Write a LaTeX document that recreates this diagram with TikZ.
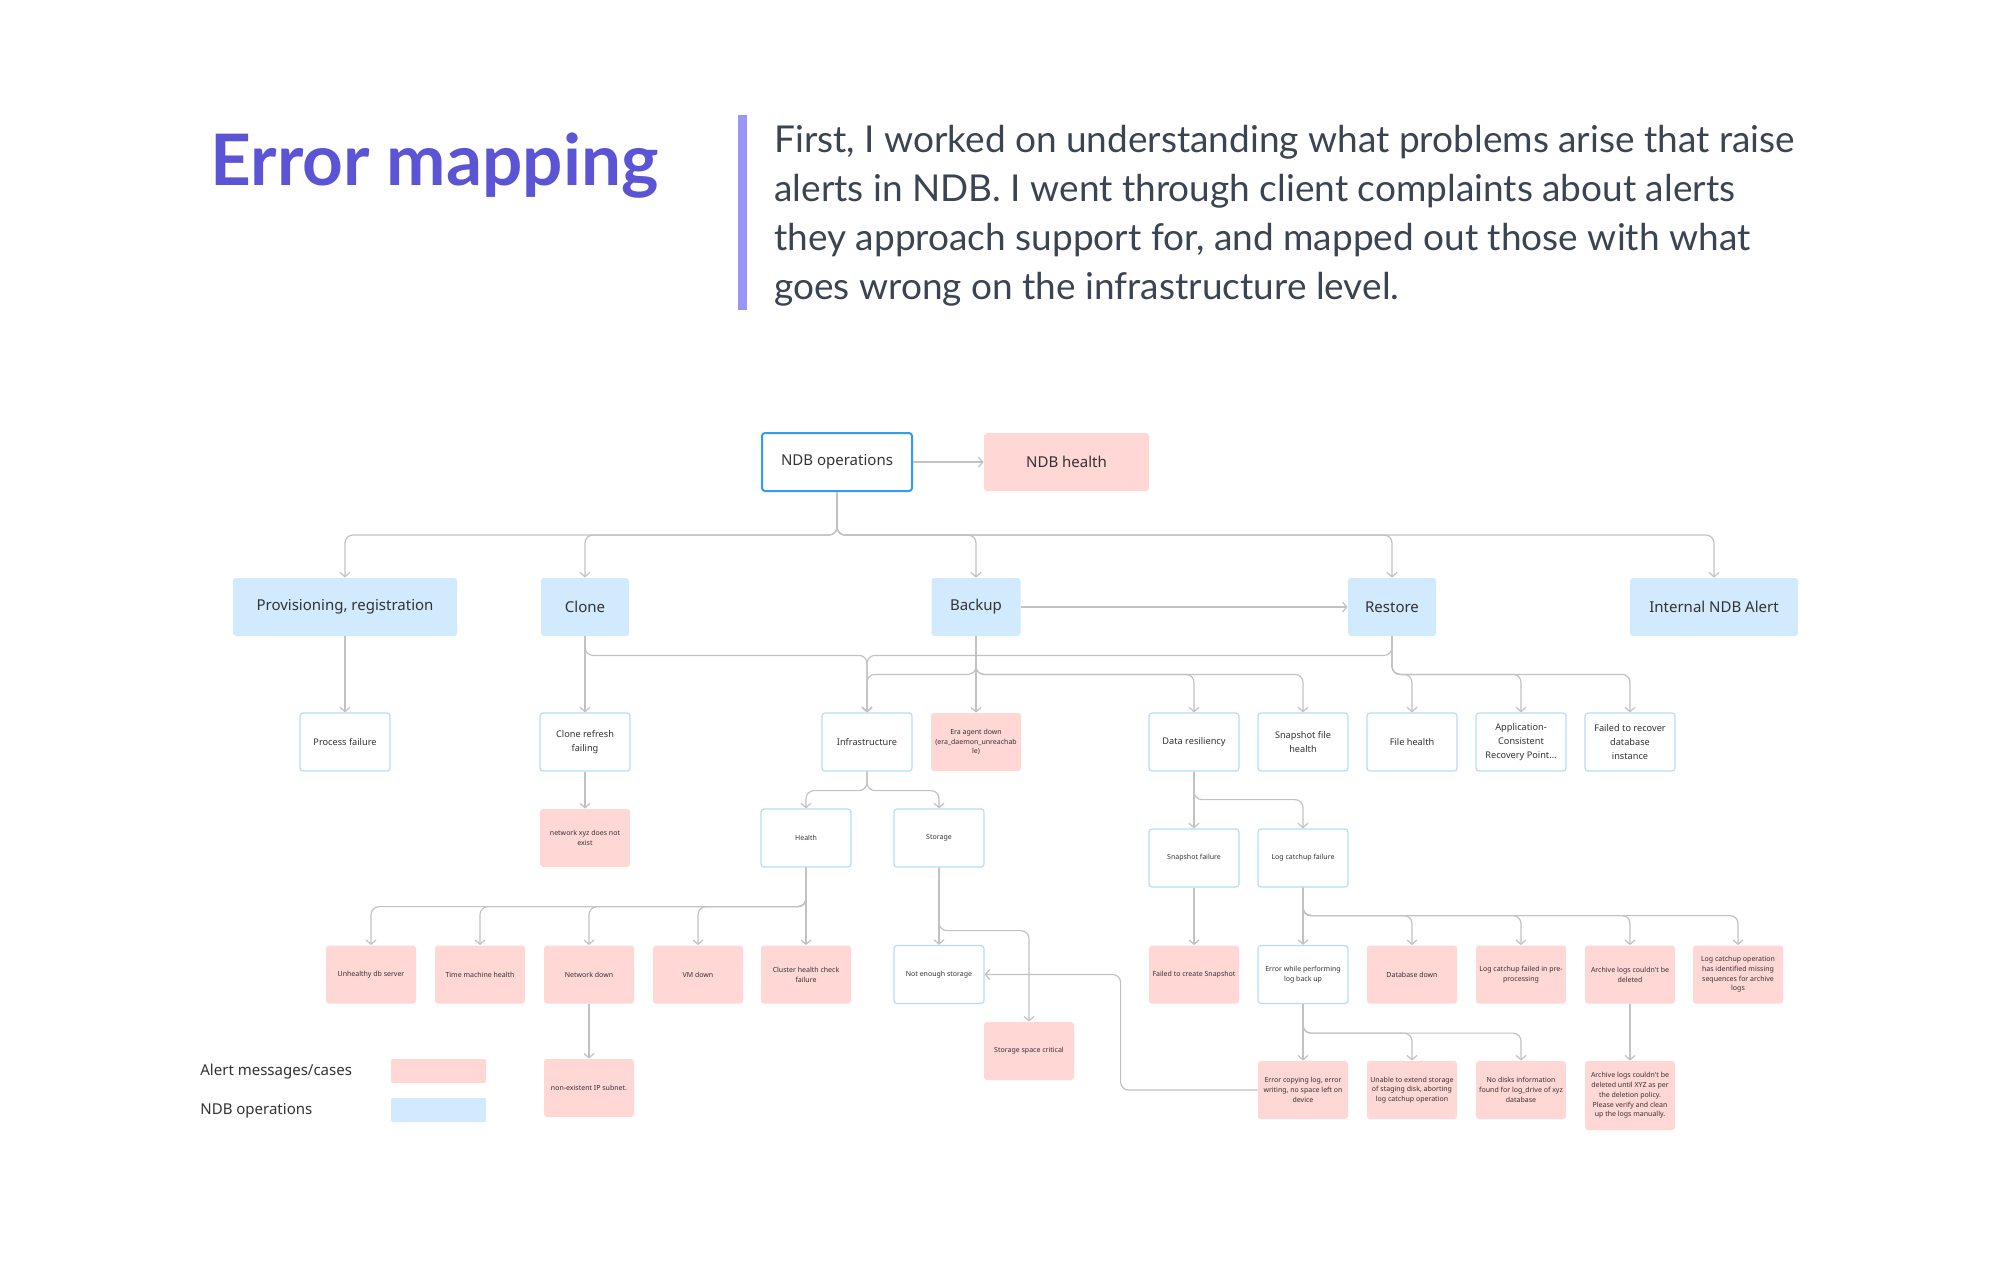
\documentclass[tikz,border=0pt]{standalone}
\usepackage{fontspec}
\setmainfont{Lato}
\newfontfamily\dfont{Noto Sans}
\usetikzlibrary{arrows.meta}
\definecolor{titlec}{HTML}{5B54D4}
\definecolor{barc}{HTML}{9B95F5}
\definecolor{parac}{HTML}{3B4453}
\definecolor{linec}{HTML}{C2C2C2}
\definecolor{opfill}{HTML}{D1EAFD}
\definecolor{alertfill}{HTML}{FFD7D5}
\definecolor{subline}{HTML}{B5DDFB}
\definecolor{opsline}{HTML}{2F9DF4}
\definecolor{txtc}{HTML}{333333}
\begin{document}
\begin{tikzpicture}[x=0.5pt,y=-0.5pt,
 conn/.style={draw=linec, line width=0.6pt, rounded corners=4pt, -{Straight Barb[length=2.2pt,width=5pt]}},
 box/.style={rounded corners=1.5pt, inner sep=1pt, align=center, text=txtc, minimum height=29pt, minimum width=45pt},
 opbox/.style={box, fill=opfill},
 alert/.style={box, fill=alertfill},
 subbox/.style={box, draw=subline, line width=0.6pt, fill=white},
 big/.style={font=\dfont\fontsize{7.5}{9}\selectfont},
 mid/.style={font=\dfont\fontsize{4.6}{7.2}\selectfont},
 small/.style={font=\dfont\fontsize{3.5}{4.85}\selectfont},
 para/.style={anchor=base west, inner sep=0, text=parac, font=\fontsize{18.5}{24.5}\selectfont},
]
\fill[white] (0,0) rectangle (2000,1266);
\useasboundingbox (0,0) rectangle (2000,1266);

% header
\node[anchor=base west, inner sep=0, text=titlec, font=\fontsize{35.5}{40}\selectfont\bfseries] (title) at (210,185) {Error mapping};
\fill[barc] (738,115) rectangle (747,310);
\node[para] (p1) at (774,152) {First, I worked on understanding what problems arise that raise};
\node[para] (p2) at (774,201) {alerts in NDB. I went through client complaints about alerts};
\node[para] (p3) at (774,250) {they approach support for, and mapped out those with what};
\node[para] (p4) at (774,299) {goes wrong on the infrastructure level.};

% row 0
\node[box, big, draw=opsline, line width=1pt, fill=white, minimum width=75pt] (ops) at (837,462) {NDB operations};
\node[alert, big, minimum width=82.5pt] (nhealth) at (1066.5,462) {NDB health};

% row 1
\node[opbox, big, minimum width=112pt] (prov) at (345,607) {Provisioning, registration};
\node[opbox, big, minimum width=44pt] (clone) at (585,607) {Clone};
\node[opbox, big, minimum width=44.5pt] (backup) at (976,607) {Backup};
\node[opbox, big, minimum width=44pt] (restore) at (1392,607) {Restore};
\node[opbox, big, minimum width=84pt] (internal) at (1714,607) {Internal NDB Alert};

% row 2
\node[subbox, mid] (pf) at (345,742) {Process failure};
\node[subbox, mid] (crf) at (585,742) {Clone refresh\\failing};
\node[subbox, mid] (infra) at (867,742) {Infrastructure};
\node[alert, small] (era) at (976,742) {Era agent down\\(era\_daemon\_unreachab\\le)};
\node[subbox, mid] (dr) at (1194,742) {Data resiliency};
\node[subbox, mid] (sfh) at (1303,742) {Snapshot file\\health};
\node[subbox, mid] (fh) at (1412,742) {File health};
\node[subbox, mid] (acr) at (1521,742) {Application-\\Consistent\\Recovery Point...};
\node[subbox, mid] (ftr) at (1630,742) {Failed to recover\\database\\instance};

% row 3
\node[alert, small] (netxyz) at (585,838) {network xyz does not\\exist};
\node[subbox, small] (hlth) at (806,838) {Health};
\node[subbox, small] (stor) at (939,838) {Storage};
\node[subbox, small] (snapf) at (1194,858) {Snapshot failure};
\node[subbox, small] (logc) at (1303,858) {Log catchup failure};

% row 4
\node[alert, small] (unh) at (371,974.5) {Unhealthy db server};
\node[alert, small] (tmh) at (480,974.5) {Time machine health};
\node[alert, small] (netd) at (589,974.5) {Network down};
\node[alert, small] (vmd) at (698,974.5) {VM down};
\node[alert, small] (clus) at (806,974.5) {Cluster health check\\failure};
\node[subbox, small] (noten) at (939,974.5) {Not enough storage};
\node[alert, small] (fsnap) at (1194,974.5) {Failed to create Snapshot};
\node[subbox, small] (errw) at (1303,974.5) {Error while performing\\log back up};
\node[alert, small] (dbd) at (1412,974.5) {Database down};
\node[alert, small] (lcpre) at (1521,974.5) {Log catchup failed in pre-\\processing};
\node[alert, small] (arch) at (1630,974.5) {Archive logs couldn't be\\deleted};
\node[alert, small] (lcop) at (1738,974.5) {Log catchup operation\\has identified missing\\sequences for archive\\logs};

% row 5
\node[alert, small] (scrit) at (1029,1051) {Storage space critical};
\node[alert, small] (nonip) at (589,1088) {non-existent IP subnet.};
\node[alert, small] (errc) at (1303,1090) {Error copying log, error\\writing, no space left on\\device};
\node[alert, small] (unable) at (1412,1090) {Unable to extend storage\\of staging disk, aborting\\log catchup operation};
\node[alert, small] (nodisk) at (1521,1090) {No disks information\\found for log\_drive of xyz\\database};
\node[alert, small, minimum height=34.5pt] (archu) at (1630,1095.5) {Archive logs couldn't be\\deleted until XYZ as per\\the deletion policy.\\Please verify and clean\\up the logs manually.};

% legend
\node[anchor=west, inner sep=0, big, text=txtc] (lg1) at (200,1072) {Alert messages/cases};
\node[anchor=west, inner sep=0, big, text=txtc] (lg2) at (200,1111) {NDB operations};
\node[alert, minimum width=47.5pt, minimum height=12pt, rounded corners=1pt] (lgp) at (438.5,1071) {};
\node[opbox, minimum width=47.5pt, minimum height=12pt, rounded corners=1pt] (lgb) at (438.5,1110) {};

% connectors
\draw[conn] (ops.east) -- (nhealth.west);
\foreach \t in {prov,clone,backup,restore,internal}
  \draw[conn] (ops.south) -- ++(0,43) -| (\t.north);
\draw[conn] (backup.east) -- (restore.west);
\draw[conn] (prov.south) -- (pf.north);
\draw[conn] (clone.south) -- (crf.north);
\draw[conn] (clone.south) -- ++(0,19) -| (infra.north);
\draw[conn] (restore.south) -- ++(0,19) -| (infra.north);
\draw[conn] (backup.south) -- (era.north);
\foreach \t in {infra,dr,sfh}
  \draw[conn] (backup.south) -- ++(0,38) -| (\t.north);
\foreach \t in {fh,acr,ftr}
  \draw[conn] (restore.south) -- ++(0,38) -| (\t.north);
\draw[conn] (crf.south) -- (netxyz.north);
\foreach \t in {hlth,stor}
  \draw[conn] (infra.south) -- ++(0,19) -| (\t.north);
\draw[conn] (dr.south) -- (snapf.north);
\draw[conn] (dr.south) -- ++(0,28) -| (logc.north);
\draw[conn] (hlth.south) -- (clus.north);
\foreach \t in {unh,tmh,netd,vmd}
  \draw[conn] (hlth.south) -- ++(0,39) -| (\t.north);
\draw[conn] (netd.south) -- (nonip.north);
\draw[conn] (stor.south) -- (noten.north);
\draw[conn] (stor.south) -- ++(0,63) -| (scrit.north);
\draw[conn] (snapf.south) -- (fsnap.north);
\draw[conn] (logc.south) -- (errw.north);
\foreach \t in {dbd,lcpre,arch,lcop}
  \draw[conn] (logc.south) -- ++(0,28) -| (\t.north);
\draw[conn] (errw.south) -- (errc.north);
\foreach \t in {unable,nodisk}
  \draw[conn] (errw.south) -- ++(0,29) -| (\t.north);
\draw[conn] (arch.south) -- (archu.north);
\draw[conn] (errc.west) -- ++(-137,0) |- (noten.east);
\end{tikzpicture}
\end{document}
